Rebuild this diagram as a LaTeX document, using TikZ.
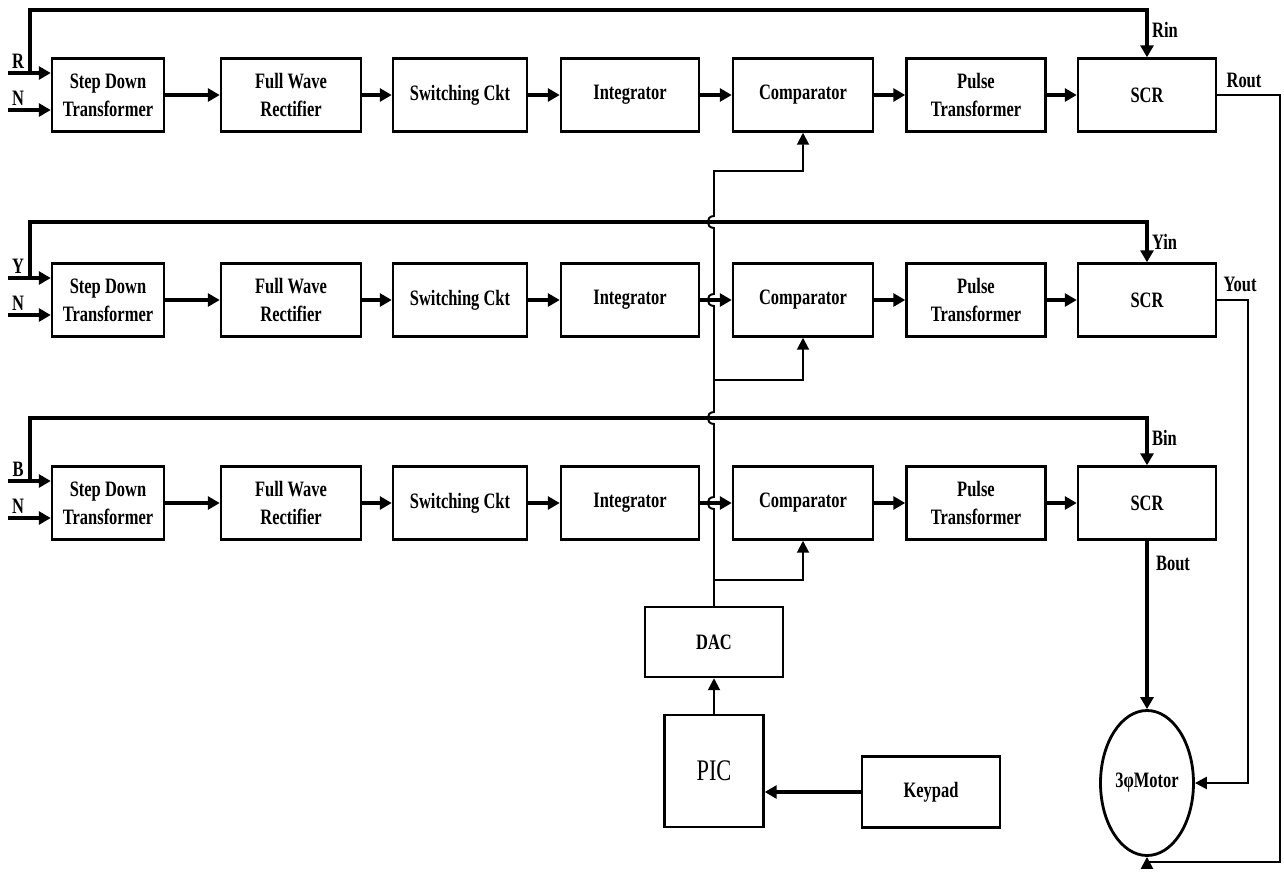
\documentclass[tikz,border=0pt]{standalone}
\usepackage{fontspec}
\setmainfont{Liberation Serif}[FakeStretch=0.75]
\usepackage{tikz}
\usetikzlibrary{arrows.meta,shapes.geometric}

\tikzset{
    blk/.style={draw, line width=1.4pt, minimum height=14.6mm, align=center, inner sep=1pt,
        font=\fontsize{12.5}{16}\selectfont\bfseries},
    lbl/.style={inner sep=1pt, font=\fontsize{12.5}{16}\selectfont\bfseries},
    flow/.style={line width=2.4pt, -{Triangle[length=2.4mm,width=2.6mm]}},
    fb/.style={line width=1.8pt, -{Triangle[length=2.4mm,width=2.6mm]}},
    sig/.style={line width=1.4pt, -{Triangle[length=2.4mm,width=2.4mm]}},
    bus/.style={line width=1.1pt, -{Triangle[length=2.4mm,width=2.4mm]}},
    hop/.style={out=180, in=180, looseness=1.8},
}

\begin{document}
\begin{tikzpicture}[x=0.2mm, y=-0.2mm]
            \useasboundingbox (0,0) rectangle (1284,884);
            % Phase rows
            \foreach \r/\y/\t/\ph in {1/95/10/R,2/300/222/Y,3/503/418/B} {
                \node[blk, minimum width=22.4mm] (SDT-\r) at (108,\y) {Step Down\\Transformer};
                \node[blk, minimum width=28mm] (FWR-\r) at (291,\y) {Full Wave\\Rectifier};
                \node[blk, minimum width=26.8mm] (SW-\r) at (460,\y) {Switching Ckt};
                \node[blk, minimum width=27.6mm] (INT-\r) at (630,\y) {Integrator};
                \node[blk, minimum width=28mm] (CMP-\r) at (803,\y) {Comparator};
                \node[blk, minimum width=27.8mm] (PT-\r) at (976,\y) {Pulse\\Transformer};
                \node[blk, minimum width=27.6mm] (SCR-\r) at (1147,\y) {SCR};
                % supply inputs
                \coordinate (In-\r) at (8,\y-22);
                \coordinate (Nn-\r) at (8,\y+15);
                \coordinate (Top-\r) at (30,\t);
                \node[lbl] (Ph-\r) at (18,\y-34) {\ph};
                \node[lbl] (N-\r) at (18,\y+3) {N};
                \node[lbl, anchor=west] (PhIn-\r) at (1150,\t+20) {\ph{}in};
                \draw[flow] (In-\r) -- (In-\r -| SDT-\r.west);
                \draw[flow] (Nn-\r) -- (Nn-\r -| SDT-\r.west);
                \draw[fb] (In-\r -| Top-\r) -- (Top-\r) -| (SCR-\r.north);
                % chain
                \draw[flow] (SDT-\r) -- (FWR-\r);
                \draw[flow] (FWR-\r) -- (SW-\r);
                \draw[flow] (SW-\r) -- (INT-\r);
                \draw[flow] (INT-\r) -- (CMP-\r);
                \draw[flow] (CMP-\r) -- (PT-\r);
                \draw[flow] (PT-\r) -- (SCR-\r);
            }
            % Controller
            \node[blk, minimum width=27.6mm, minimum height=14mm] (DAC) at (714,642) {DAC};
            \node[draw, line width=1.4pt, minimum width=19.8mm, minimum height=22.4mm,
                font=\fontsize{17}{20}\selectfont] (PIC) at (714,771) {PIC};
            \node[blk, minimum width=27.6mm, minimum height=14.2mm] (Keypad) at (931,792) {Keypad};
            \draw[flow] (Keypad) -- (Keypad -| PIC.east);
            \draw[bus] (PIC) -- (DAC);
            % Reference bus
            \coordinate (Tap-1) at (714,171);
            \coordinate (Tap-2) at (714,380);
            \coordinate (Tap-3) at (714,580);
            \draw[bus] (DAC.north) -- (714,509) to[hop] (714,497) -- (714,424) to[hop] (714,412)
                -- (714,306) to[hop] (714,294) -- (714,228) to[hop] (714,216) -- (Tap-1) -| (CMP-1.south);
            \foreach \r in {2,3} {
                \draw[bus] (Tap-\r) -| (CMP-\r.south);
            }
            % Motor
            \node[draw, ellipse, line width=1.6pt, minimum width=18.6mm, minimum height=29mm,
                inner sep=0pt, font=\fontsize{12.5}{16}\selectfont\bfseries] (Motor) at (1147,783) {3φMotor};
            \coordinate (RB) at (1280,862);
            \coordinate (YB) at (1248,783);
            \node[lbl] (Rout) at (1244,80) {Rout};
            \node[lbl] (Yout) at (1240,284) {Yout};
            \node[lbl] (Bout) at (1173,563) {Bout};
            \draw[sig] (SCR-1.east) -| (RB) -| (Motor.south);
            \draw[sig] (SCR-2.east) -| (YB) -- (Motor.east);
            \draw[fb] (SCR-3) -- (Motor);
        \end{tikzpicture}
\end{document}
